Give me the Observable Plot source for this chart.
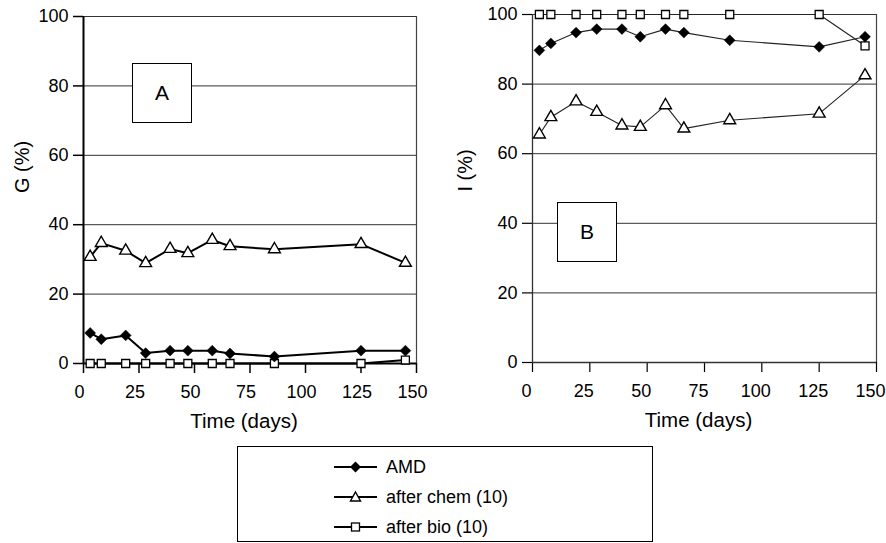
<!DOCTYPE html>
<html>
<head>
<meta charset="utf-8">
<script src="https://cdn.jsdelivr.net/npm/d3@7"></script>
<script src="https://cdn.jsdelivr.net/npm/@observablehq/plot@0.6"></script>
<style>
  html, body { margin: 0; padding: 0; background: #fff; }
  #wrap { position: relative; width: 886px; height: 543px; overflow: hidden; background: #fff;
          font-family: "Liberation Sans", Arial, sans-serif; color: #000; }
  .panel { position: absolute; top: 0; }
  .tag { position: absolute; width: 58px; height: 58px; background: #fff; border: 1.5px solid #000;
         display: flex; align-items: center; justify-content: center; font-size: 21px; }
  #legend { position: absolute; left: 237px; top: 446px; width: 416px; height: 96px;
            border: 1.5px solid #000; box-sizing: border-box; background: #fff; }
  .lrow { position: absolute; left: 96px; height: 24px; display: flex; align-items: center; font-size: 18px; }
  .lrow svg { margin-right: 9px; }
</style>
</head>
<body>
<div id="wrap"></div>
<script>
// ---- data ----
const days = [3, 8, 19, 28, 39, 47, 58, 66, 86, 125, 145];
const gAMD  = [8.8, 7.0, 8.1, 3.0, 3.7, 3.7, 3.7, 2.9, 2.0, 3.7, 3.7];
const gChem = [30.7, 34.7, 32.5, 28.9, 33.0, 31.8, 35.6, 33.8, 32.9, 34.4, 29.0];
const gBio  = [0, 0, 0, 0, 0, 0, 0, 0, 0, 0, 1];
const iAMD  = [89.7, 91.7, 94.8, 95.8, 95.8, 93.6, 95.8, 94.8, 92.6, 90.7, 93.6];
const iChem = [65.5, 70.5, 75.0, 72.0, 68.1, 67.7, 73.9, 67.2, 69.6, 71.5, 82.5];
const iBio  = [100, 100, 100, 100, 100, 100, 100, 100, 100, 100, 91];
const yTicks = [0, 20, 40, 60, 80, 100];
const xTicks = [0, 25, 50, 75, 100, 125, 150];
const seriesNames = ["AMD", "after chem (10)", "after bio (10)"];
const xLabel = "Time (days)";

function rows(vals) { return days.map((d, i) => ({day: d, v: vals[i]})); }

function panel({amd, chem, bio, yLabel, ml, mr, mt, mb, thin, labelShift}) {
  const lw = thin ? 1.1 : 2;
  const lc = thin ? "#222" : "#000";
  const A = rows(amd), C = rows(chem), B = rows(bio);
  return Plot.plot({
    width: 443, height: 445,
    marginLeft: ml, marginRight: mr, marginTop: mt, marginBottom: mb,
    style: {fontFamily: "'Liberation Sans', Arial, sans-serif", fontSize: "18px", color: "#000", background: "transparent", overflow: "visible"},
    x: {domain: [0, 150]},
    y: {domain: [0, 100]},
    marks: [
      Plot.ruleY(yTicks.filter(d => d > 0), {stroke: "#333", strokeWidth: 1}),
      Plot.ruleX([150], {stroke: "#444", strokeWidth: 1.2}),
      Plot.axisY({ticks: yTicks, tickSize: 10, tickPadding: 5, fontSize: 18, label: null, strokeWidth: thin ? 1.2 : 1.5}),
      Plot.axisX({ticks: xTicks, tickSize: 10, text: null, label: null, strokeWidth: thin ? 1.2 : 1.5}),
      Plot.axisX({ticks: xTicks, tickSize: 0, tickPadding: 22, fontSize: 18, label: null, dx: labelShift}),
      Plot.ruleX([0], {stroke: thin ? "#333" : "#000", strokeWidth: thin ? 1.3 : 2}),
      Plot.ruleY([0], {stroke: thin ? "#333" : "#000", strokeWidth: thin ? 1.3 : 2}),
      Plot.line(B, {x: "day", y: "v", stroke: lc, strokeWidth: lw}),
      Plot.line(A, {x: "day", y: "v", stroke: lc, strokeWidth: lw}),
      Plot.line(C, {x: "day", y: "v", stroke: lc, strokeWidth: lw}),
      Plot.dot(B, {x: "day", y: "v", symbol: "square", r: 4.5, fill: "#fff", stroke: "#000", strokeWidth: 1.3}),
      Plot.dot(A, {x: "day", y: "v", symbol: "diamond2", r: 4.9, fill: "#000", stroke: "#000", strokeWidth: 0.5}),
      Plot.dot(C, {x: "day", y: "v", symbol: "triangle", r: 4.4, fill: "#fff", stroke: "#000", strokeWidth: 1.4}),
      Plot.text([yLabel], {text: d => d, frameAnchor: "left", lineAnchor: "middle", dx: -(ml - 22), dy: 3, rotate: -90, fontSize: 20}),
      Plot.text([xLabel], {text: d => d, frameAnchor: "bottom", lineAnchor: "middle", dx: -6, dy: 58, fontSize: 20.5})
    ]
  });
}

const wrap = document.getElementById("wrap");

const pA = panel({amd: gAMD, chem: gChem, bio: gBio, yLabel: "G (%)", ml: 83, mr: 27, mt: 16, mb: 82, thin: false, labelShift: -4});
pA.classList.add("panel"); pA.style.left = "0px";
wrap.appendChild(pA);

const pB = panel({amd: iAMD, chem: iChem, bio: iBio, yLabel: "I (%)", ml: 89, mr: 10, mt: 14, mb: 83, thin: true, labelShift: -6});
pB.classList.add("panel"); pB.style.left = "443px";
wrap.appendChild(pB);

// panel tags
function tag(text, left, top) {
  const d = document.createElement("div");
  d.className = "tag"; d.textContent = text;
  d.style.left = left + "px"; d.style.top = top + "px";
  wrap.appendChild(d);
}
tag("A", 132, 63);
tag("B", 557, 202);

// legend
const legend = document.createElement("div");
legend.id = "legend";
const icons = [
  '<line x1="0" y1="8" x2="43" y2="8" stroke="#000" stroke-width="2"/><path d="M21.5,2.5 L27,8 L21.5,13.5 L16,8 Z" fill="#000"/>',
  '<line x1="0" y1="8" x2="43" y2="8" stroke="#000" stroke-width="2"/><path d="M21.5,3 L26.5,12 L16.5,12 Z" fill="#fff" stroke="#000" stroke-width="1.4"/>',
  '<line x1="0" y1="8" x2="43" y2="8" stroke="#000" stroke-width="2"/><rect x="17.5" y="4" width="8" height="8" fill="#fff" stroke="#000" stroke-width="1.3"/>'
];
const tops = [8, 38, 68];
seriesNames.forEach((name, i) => {
  const r = document.createElement("div");
  r.className = "lrow";
  r.style.top = tops[i] + "px";
  r.innerHTML = '<svg width="43" height="16">' + icons[i] + '</svg><span>' + name + '</span>';
  legend.appendChild(r);
});
wrap.appendChild(legend);
</script>
</body>
</html>
